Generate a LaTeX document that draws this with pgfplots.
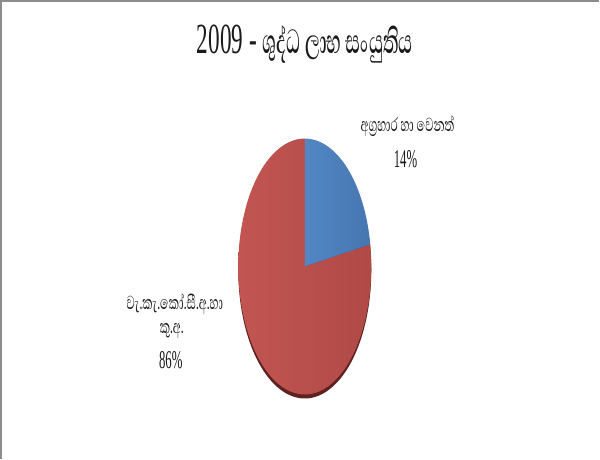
\documentclass[border=0pt]{standalone}
\usepackage{fontspec}
\setmainfont{Liberation Serif}
\newfontfamily\sinhfont[Script=Sinhala]{Abhaya Libre}
\newfontfamily\sinhtitle[Script=Sinhala]{Abhaya Libre Medium}
\usepackage{pgfplots}
\pgfplotsset{compat=1.18}
\usepackage{pgfplotstable}
\definecolor{redA}{HTML}{C25552}
\definecolor{redB}{HTML}{B04A47}
\definecolor{blueA}{HTML}{5287C4}
\definecolor{blueB}{HTML}{4676B0}
\definecolor{shad}{HTML}{5E2220}
\definecolor{frame}{HTML}{8C8C8C}
\definecolor{txt}{HTML}{1A1A1A}
% slice boundaries as drawn (parametric angle on the ellipse, degrees)
\pgfplotstableread{
label value start end
1 14 10 90
2 86 -270 10
}\pie
\pgfplotstablegetelem{0}{start}\of\pie \let\bs\pgfplotsretval
\pgfplotstablegetelem{0}{end}\of\pie \let\be\pgfplotsretval
\pgfplotstablegetelem{1}{start}\of\pie \let\rs\pgfplotsretval
\pgfplotstablegetelem{1}{end}\of\pie \let\re\pgfplotsretval
\begin{document}
\begin{tikzpicture}
\begin{axis}[
  width=450pt, height=345.75pt, scale only axis,
  xmin=0, xmax=600, ymin=0, ymax=461, y dir=reverse,
  hide axis, clip=false,
]
% frame
\addplot[frame, line width=1.5pt, mark=none] coordinates {(600,6.5) (6.5,6.5) (6.5,461)};
% shadow
\addplot[draw=none, fill=shad, domain=0:360, samples=120] ({308+66*cos(x)},{274-127*sin(x)}) -- cycle;
% red slice
\addplot[draw=none, left color=redA, right color=redB, domain=\rs:\re, samples=120]
  ({308+66*cos(x)},{270-127*sin(x)}) -- (axis cs:308,270) -- cycle;
% blue slice
\addplot[draw=none, left color=blueA, right color=blueB, domain=\bs:\be, samples=60]
  ({308+66*cos(x)},{270-127*sin(x)}) -- (axis cs:308,270) -- cycle;
% title
\node[txt] at (axis cs:308,49) {\scalebox{0.54}[1]{\fontsize{32}{36}\selectfont 2009 - {\sinhtitle ශුද්ධ ලාභ සංයුතිය}}};
% labels
\node[txt] at (axis cs:410,131) {\scalebox{0.6}[1]{\fontsize{18}{20}\selectfont\sinhfont අග්‍රහාර හා  වෙනත්}};
\node[txt] at (axis cs:408,163) {\scalebox{0.5}[1]{\fontsize{19}{20}\selectfont 14\%}};
\node[txt] at (axis cs:179,307) {\scalebox{0.6}[1]{\fontsize{18}{20}\selectfont\sinhfont වැ.කැ.කෝ.සී.අ.හා}};
\node[txt] at (axis cs:176,334) {\scalebox{0.6}[1]{\fontsize{18}{20}\selectfont\sinhfont කු.අ.}};
\node[txt] at (axis cs:175,363) {\scalebox{0.5}[1]{\fontsize{19}{20}\selectfont 86\%}};
\end{axis}
\end{tikzpicture}
\end{document}
